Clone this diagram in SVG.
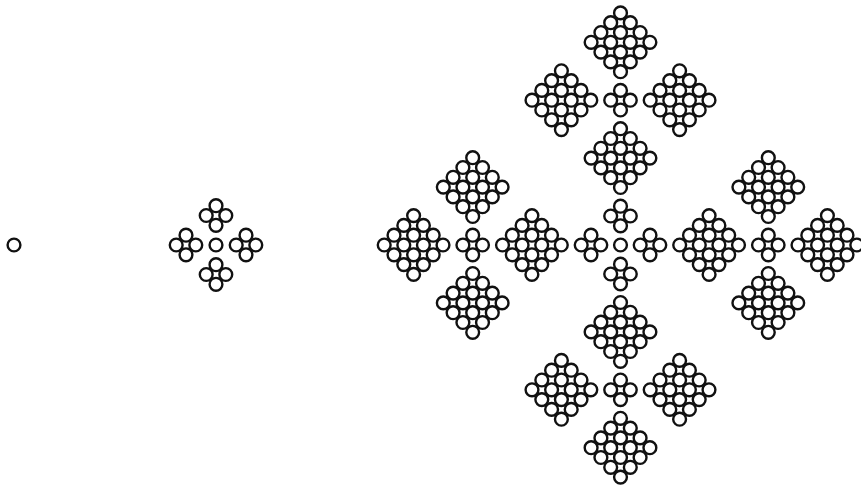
<svg xmlns="http://www.w3.org/2000/svg" xmlns:xlink="http://www.w3.org/1999/xlink" width="861" height="488" viewBox="0 0 861 488">
<style>
.c{fill:none;stroke:#111;stroke-width:2.4}
</style>
<defs>
<circle id="c" class="c" r="6.4"/>
<g id="f">
<use href="#c" x="0" y="-9.8"/>
<use href="#c" x="-9.8" y="0"/>
<use href="#c" x="9.8" y="0"/>
<use href="#c" x="0" y="9.8"/>
</g>
<g id="D">
<use href="#f" x="0" y="-19.6"/>
<use href="#f" x="-19.6" y="0"/>
<use href="#f" x="19.6" y="0"/>
<use href="#f" x="0" y="19.6"/>
</g>
</defs>
<rect width="861" height="488" fill="#fff"/>
<g id="stage1">
<use href="#c" x="14" y="245"/>
</g>
<g id="stage2" transform="translate(216,245)">
<use href="#c"/>
<use href="#f" x="0" y="-29.5"/>
<use href="#f" x="-30" y="0"/>
<use href="#f" x="30" y="0"/>
<use href="#f" x="0" y="29.5"/>
</g>
<g id="stage3" transform="translate(620.5,245)">
<g id="core">
<use href="#c"/>
<use href="#f" x="0" y="-29"/>
<use href="#f" x="-29.5" y="0"/>
<use href="#f" x="29.5" y="0"/>
<use href="#f" x="0" y="29"/>
</g>
<g id="inner-diamonds">
<use href="#D" x="0" y="-86.9"/>
<use href="#D" x="-88.6" y="0"/>
<use href="#D" x="88.6" y="0"/>
<use href="#D" x="0" y="86.9"/>
</g>
<g id="arm-left" transform="translate(-147.8,0)">
<use href="#f"/>
<use href="#D" x="0" y="-57.9"/>
<use href="#D" x="0" y="57.9"/>
<use href="#D" x="-59.1" y="0"/>
</g>
<g id="arm-right" transform="translate(147.8,0)">
<use href="#f"/>
<use href="#D" x="0" y="-57.9"/>
<use href="#D" x="0" y="57.9"/>
<use href="#D" x="59.1" y="0"/>
</g>
<g id="arm-top" transform="translate(0,-144.8)">
<use href="#f"/>
<use href="#D" x="-59.1" y="0"/>
<use href="#D" x="59.1" y="0"/>
<use href="#D" x="0" y="-57.9"/>
</g>
<g id="arm-bottom" transform="translate(0,144.8)">
<use href="#f"/>
<use href="#D" x="-59.1" y="0"/>
<use href="#D" x="59.1" y="0"/>
<use href="#D" x="0" y="57.9"/>
</g>
</g>
</svg>
